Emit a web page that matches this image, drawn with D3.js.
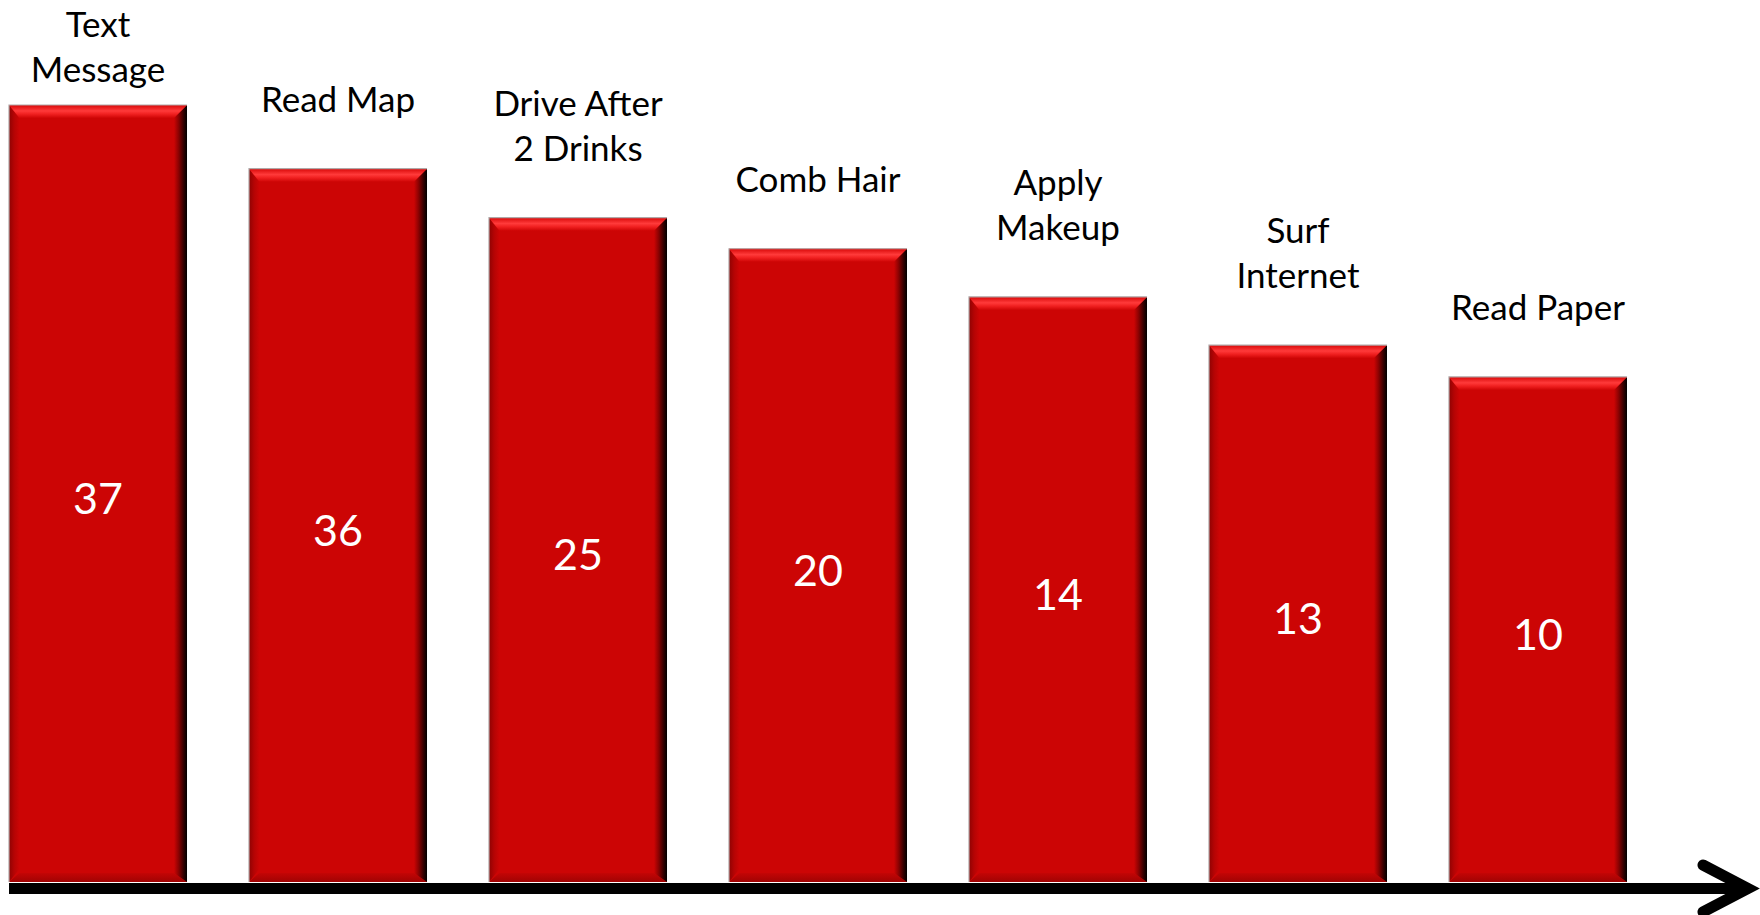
<!DOCTYPE html>
<html>
<head>
<meta charset="utf-8">
<script src="https://cdn.jsdelivr.net/npm/d3@7/dist/d3.min.js"></script>
<style>
  html, body { margin: 0; padding: 0; background: #fff; }
  svg { display: block; }
</style>
</head>
<body>
<svg id="chart" width="1760" height="915"></svg>
<script>
// ---- data ----
const categories = ["Text Message", "Read Map", "Drive After 2 Drinks", "Comb Hair", "Apply Makeup", "Surf Internet", "Read Paper"];
const categoryLines = [["Text", "Message"], ["Read Map"], ["Drive After", "2 Drinks"], ["Comb Hair"], ["Apply", "Makeup"], ["Surf", "Internet"], ["Read Paper"]];
const valueLabels = [37, 36, 25, 20, 14, 13, 10];
// drawn bar heights (relative, as shown in the picture; not proportional to the labels)
const barLevels = [100, 91.8, 85.5, 81.5, 75.3, 69.1, 65.0];

// ---- layout ----
const W = 1760, H = 915;
const baseY = 882;
const svg = d3.select("#chart");

const x = d3.scaleBand().domain(categories).range([9, 1627]).paddingInner(0.2583).paddingOuter(0);
const y = d3.scaleLinear().domain([0, 100]).range([baseY, 105]);

const defs = svg.append("defs");
function grad(id, x1, y1, x2, y2, stops) {
  const g = defs.append("linearGradient").attr("id", id)
    .attr("x1", x1).attr("y1", y1).attr("x2", x2).attr("y2", y2);
  stops.forEach(s => g.append("stop").attr("offset", s[0]).attr("stop-color", s[1]).attr("stop-opacity", s[2] == null ? 1 : s[2]));
}
grad("gTop", 0, 0, 0, 1, [[0, "#d80808"], [0.45, "#ff3a3a"], [0.7, "#f02020"], [1, "#cf0606"]]);
grad("gRight", 0, 0, 1, 0, [[0, "#cc0505"], [0.35, "#8a0202"], [0.75, "#300000"], [1, "#000000"]]);
grad("gLeft", 0, 0, 1, 0, [[0, "#8e0303"], [0.5, "#b50404"], [1, "#cc0505"]]);
grad("gBottom", 0, 0, 0, 1, [[0, "#c40505"], [1, "#a00303"]]);

const bev = 13;
const bars = svg.append("g").selectAll("g").data(categories).join("g");

bars.each(function(c, i) {
  const g = d3.select(this);
  const x0 = x(c), x1 = x(c) + x.bandwidth();
  const t = y(barLevels[i]), b = y(0);
  g.append("rect").attr("x", x0).attr("y", t).attr("width", x1 - x0).attr("height", b - t)
    .attr("fill", "#cc0505");
  const poly = pts => g.append("polygon").attr("points", pts.map(p => p.join(",")).join(" "));
  poly([[x0, t], [x0 + bev * 0.8, t + bev], [x0 + bev * 0.8, b - bev], [x0, b]]).attr("fill", "url(#gLeft)");
  poly([[x0, b], [x0 + bev * 0.8, b - bev * 0.7], [x1 - bev, b - bev * 0.7], [x1, b]]).attr("fill", "url(#gBottom)");
  poly([[x1, t], [x1 - bev, t + bev], [x1 - bev, b - bev * 0.7], [x1, b]]).attr("fill", "url(#gRight)");
  poly([[x0, t], [x1, t], [x1 - bev, t + bev], [x0 + bev * 0.8, t + bev]]).attr("fill", "url(#gTop)");
  g.append("path").attr("d", `M${x0},${b} L${x0},${t} L${x1},${t}`)
    .attr("fill", "none").attr("stroke", "#b0a8a8").attr("stroke-width", 1.2);
});

// value labels
svg.append("g").selectAll("text").data(categories).join("text")
  .attr("x", c => x(c) + x.bandwidth() / 2)
  .attr("y", (c, i) => (y(barLevels[i]) + y(0)) / 2 + 4)
  .attr("text-anchor", "middle")
  .attr("dominant-baseline", "central")
  .attr("font-family", "Lato, 'Open Sans', sans-serif")
  .attr("font-size", 43)
  .attr("fill", "#ffffff")
  .text((c, i) => valueLabels[i]);

// category labels
const lineH = 45, gap = 57, capH = 25, topMin = 12;
const catG = svg.append("g");
categories.forEach((c, i) => {
  const lines = categoryLines[i];
  let lastBase = y(barLevels[i]) - gap;
  let firstCapTop = lastBase - (lines.length - 1) * lineH - capH;
  if (firstCapTop < topMin) lastBase += topMin - firstCapTop;
  const tx = catG.append("text")
    .attr("x", x(c) + x.bandwidth() / 2)
    .attr("text-anchor", "middle")
    .attr("font-family", "Lato, 'Open Sans', sans-serif")
    .attr("font-size", 35)
    .attr("fill", "#000");
  lines.forEach((ln, k) => {
    tx.append("tspan").attr("x", x(c) + x.bandwidth() / 2)
      .attr("y", lastBase - (lines.length - 1 - k) * lineH).text(ln);
  });
});

// axis line with arrow
const axisY = 888.5;
svg.append("line").attr("x1", 9).attr("x2", 1748).attr("y1", axisY).attr("y2", axisY)
  .attr("stroke", "#000").attr("stroke-width", 11);
svg.append("path")
  .attr("d", `M1703,865 L1748,${axisY} L1703,912`)
  .attr("fill", "none").attr("stroke", "#000").attr("stroke-width", 11)
  .attr("stroke-linecap", "round").attr("stroke-linejoin", "miter");
</script>
</body>
</html>
